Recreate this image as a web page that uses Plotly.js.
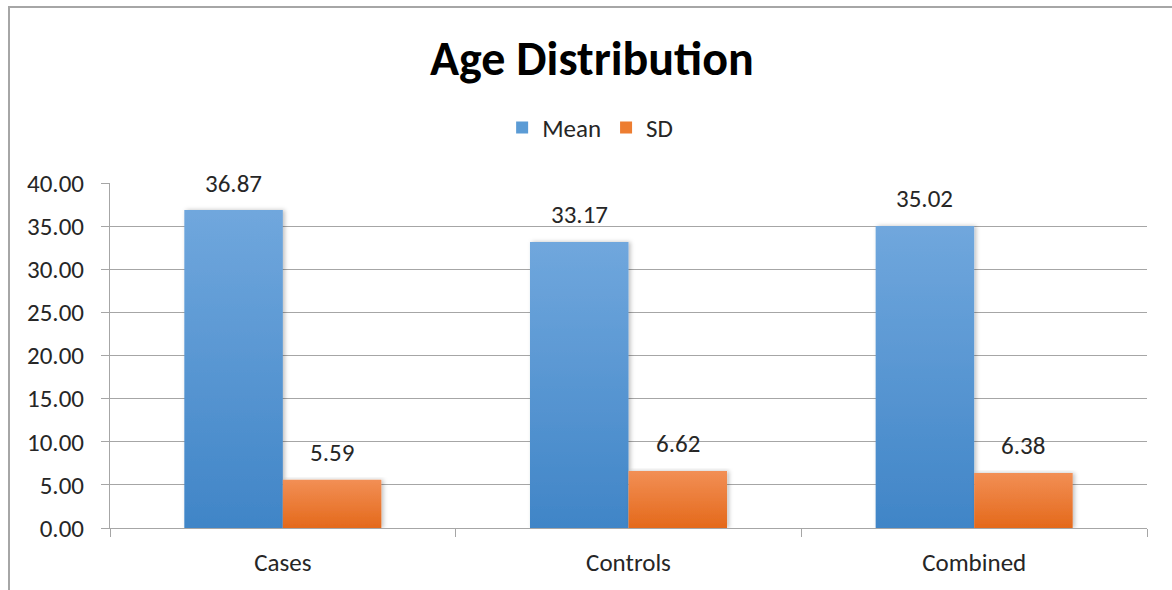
<!DOCTYPE html>
<html>
<head>
<meta charset="utf-8">
<script src="https://cdn.plot.ly/plotly-3.0.1.min.js"></script>
<style>
  html, body { margin: 0; padding: 0; background: #fff; }
  #wrap { position: relative; width: 1172px; height: 590px; overflow: hidden; }
  #frame { position: absolute; left: 8px; top: 6px; width: 1300px; height: 700px;
           border-left: 2px solid #a6a6a6; border-top: 2px solid #a6a6a6; box-sizing: border-box; }
  #chart { position: absolute; left: 0; top: 0; width: 1172px; height: 590px; }
</style>
</head>
<body>
<div id="wrap">
  <div id="frame"></div>
  <div id="chart"></div>
</div>
<script>
// Age summary per group
const groups = ["Cases", "Controls", "Combined"];
const meanAge = [36.87, 33.17, 35.02];
const sdAge = [5.59, 6.62, 6.38];
const yTicks = [0, 5, 10, 15, 20, 25, 30, 35, 40];

const FONT = "Carlito, Lato, 'Open Sans', sans-serif";
const TXT = "#262626";
const GRID = "#a6a6a6";
const FS = 25;

const traces = [
  { type: "bar", name: "Mean", x: groups, y: meanAge, marker: { color: "#5b9bd5" }, hoverinfo: "none" },
  { type: "bar", name: "SD", x: groups, y: sdAge, marker: { color: "#ed7d31" }, hoverinfo: "none" }
];

// value labels above each bar
const annotations = [];
groups.forEach((g, i) => {
  [[meanAge, -49.3], [sdAge, 49.3]].forEach(([vals, dx]) => {
    annotations.push({
      x: g, y: vals[i], xref: "x", yref: "y",
      text: vals[i].toFixed(2), showarrow: false,
      xshift: dx, yshift: 27, yanchor: "middle",
      font: { family: FONT, size: FS, color: TXT }
    });
  });
});

const layout = {
  width: 1172, height: 590,
  margin: { l: 110, r: 25, t: 183, b: 62 },
  paper_bgcolor: "rgba(0,0,0,0)", plot_bgcolor: "rgba(0,0,0,0)",
  barmode: "group", bargap: 0.43, bargroupgap: 0,
  title: {
    text: "<b>Age Distribution</b>",
    x: 0.505, xref: "container", xanchor: "center",
    y: 1 - 58 / 590, yref: "container", yanchor: "middle",
    font: { family: FONT, size: 48, color: "#000" }
  },
  legend: {
    orientation: "h", x: 0.463, xanchor: "center", y: 1.16, yanchor: "middle",
    font: { family: FONT, size: FS, color: TXT },
    itemwidth: 30, traceorder: "normal"
  },
  xaxis: {
    type: "category", showline: true, linecolor: GRID, linewidth: 1,
    ticks: "outside", tickson: "boundaries", ticklen: 8, tickcolor: GRID,
    tickfont: { family: FONT, size: FS, color: TXT },
    ticklabelstandoff: 12, showgrid: false, fixedrange: true
  },
  yaxis: {
    range: [0, 40], tickvals: yTicks, ticktext: yTicks.map(v => v.toFixed(2)),
    showline: true, linecolor: GRID, linewidth: 1,
    ticks: "outside", ticklen: 8, tickcolor: GRID,
    showgrid: true, gridcolor: GRID, gridwidth: 1, zeroline: false,
    tickfont: { family: FONT, size: FS, color: TXT },
    ticklabelstandoff: 12, fixedrange: true
  },
  annotations: annotations,
  showlegend: true
};

// vertical shading for the bars
function shadeBars(gd) {
  const svg = gd.querySelector(".main-svg");
  if (!svg) return;
  const ns = "http://www.w3.org/2000/svg";
  let defs = svg.querySelector("defs#barshade");
  if (!defs) {
    defs = document.createElementNS(ns, "defs");
    defs.setAttribute("id", "barshade");
    defs.innerHTML =
      '<linearGradient id="gMean" x1="0" y1="0" x2="0" y2="1">' +
      '<stop offset="0" stop-color="#70a7dd"/><stop offset="1" stop-color="#4085c7"/></linearGradient>' +
      '<linearGradient id="gSD" x1="0" y1="0" x2="0" y2="1">' +
      '<stop offset="0" stop-color="#f28f55"/><stop offset="1" stop-color="#e4691b"/></linearGradient>' +
      '<filter id="bshadow" x="-20%" y="-5%" width="140%" height="110%">' +
      '<feDropShadow dx="2" dy="0" stdDeviation="2" flood-color="#000" flood-opacity="0.25"/></filter>';
    svg.insertBefore(defs, svg.firstChild);
  }
  const ids = ["gMean", "gSD"];
  gd.querySelectorAll(".barlayer .trace.bars").forEach((tr, k) => {
    tr.querySelectorAll("path").forEach(p => {
      p.style.fill = "url(#" + ids[k] + ")";
      p.setAttribute("filter", "url(#bshadow)");
    });
  });
}

const gd = document.getElementById("chart");
Plotly.newPlot(gd, traces, layout, { staticPlot: true, displayModeBar: false }).then(() => {
  shadeBars(gd);
  gd.on("plotly_afterplot", () => shadeBars(gd));
});
</script>
</body>
</html>
